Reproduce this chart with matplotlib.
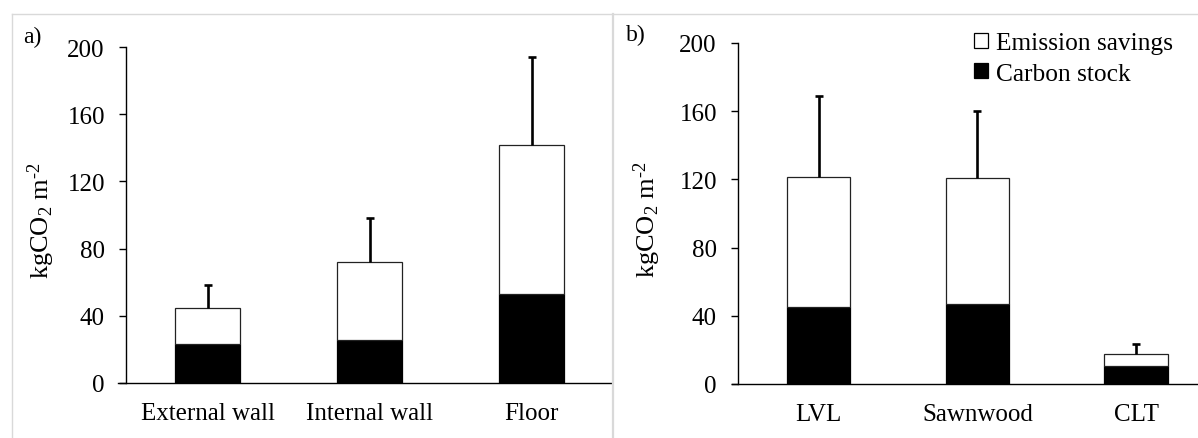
import matplotlib
matplotlib.use("Agg")
import matplotlib.pyplot as plt
from matplotlib.patches import Patch
from matplotlib.lines import Line2D

plt.rcParams['font.family'] = ['Liberation Serif', 'DejaVu Serif']
plt.rcParams['mathtext.fontset'] = 'custom'
plt.rcParams['mathtext.rm'] = 'Liberation Serif'
plt.rcParams['mathtext.it'] = 'Liberation Serif:italic'

# Panel a data
cats_a = ["External wall", "Internal wall", "Floor"]
carbon_a = [23.3, 25.4, 53.0]
savings_a = [21.5, 46.8, 88.9]
err_a = [13.5, 26.0, 52.5]

# Panel b data
cats_b = ["LVL", "Sawnwood", "CLT"]
carbon_b = [45.2, 46.7, 10.7]
savings_b = [76.0, 73.9, 6.9]
err_b = [47.7, 39.5, 5.7]

yticks = [0, 40, 80, 120, 160, 200]

W, H = 1198, 439
fig = plt.figure(figsize=(W / 100, H / 100), dpi=100)
fig.patch.set_facecolor('white')

def px(x0, y0, x1, y1):
    return [x0 / W, 1 - y1 / H, (x1 - x0) / W, (y1 - y0) / H]

ax_a = fig.add_axes(px(125.7, 48.3, 612, 383.7))
ax_b = fig.add_axes(px(737.7, 44, 1198, 385))

def draw(ax, cats, carbon, savings, err, xlim):
    x = list(range(len(cats)))
    totals = [c + s for c, s in zip(carbon, savings)]
    ax.bar(x, carbon, width=0.4, color='black', edgecolor='black', linewidth=0.9, zorder=2)
    ax.bar(x, savings, bottom=carbon, width=0.4, color='white', edgecolor='#222222',
           linewidth=0.9, zorder=2)
    eb = ax.errorbar(x, totals, yerr=[[0] * len(err), err], fmt='none', ecolor='black',
                     elinewidth=1.9, capsize=2.6, capthick=1.9, zorder=3)
    eb[1][0].set_visible(False)  # hide lower caps
    ax.set_ylim(0, 200)
    ax.set_xlim(*xlim)
    ax.set_yticks(yticks)
    ax.set_xticks(x)
    ax.set_xticklabels(cats, fontsize=18)
    ax.tick_params(axis='y', direction='out', length=5, width=1.0, labelsize=18, pad=10)
    ax.tick_params(axis='x', length=0, pad=14)
    for s in ['top', 'right', 'bottom']:
        ax.spines[s].set_visible(False)
    ax.spines['left'].set_linewidth(1.0)
    ax.set_ylabel('kgCO$_2$ m$^{\u20102}$', fontsize=19)

draw(ax_a, cats_a, carbon_a, savings_a, err_a, (-0.505, 2.495))
draw(ax_b, cats_b, carbon_b, savings_b, err_b, (-0.51, 2.39))
ax_a.yaxis.set_label_coords((57 - 125.7) / (612 - 125.7), 0.485)
ax_b.yaxis.set_label_coords((663 - 737.7) / (1198 - 737.7), 0.485)

# x axis line extending slightly left of the y-axis
ax_a.axhline(0, xmin=-0.015, xmax=1, color='black', lw=1.0, clip_on=False, zorder=4)
ax_b.axhline(0, xmin=-0.013, xmax=1, color='black', lw=1.0, clip_on=False, zorder=4)

# panel labels
fig.text(23 / W, 1 - 27 / H, 'a)', fontsize=17, va='top', ha='left')
fig.text(626 / W, 1 - 25 / H, 'b)', fontsize=17, va='top', ha='left')

# legend
handles = [Patch(facecolor='white', edgecolor='black', linewidth=0.9, label='Emission savings'),
           Patch(facecolor='black', edgecolor='black', linewidth=0.9, label='Carbon stock')]
fig.legend(handles=handles, loc='center left', bbox_to_anchor=(974 / W, 1 - 59.5 / H),
           frameon=False, fontsize=18.3, handlelength=0.55, handleheight=0.55,
           handletextpad=0.3, labelspacing=0.34, borderpad=0, borderaxespad=0)

# panel frames (light gray)
gray = '#d9d9d9'
fig.add_artist(Line2D([12 / W, 1], [1 - 14.7 / H] * 2, color=gray, lw=1.0, transform=fig.transFigure))
fig.add_artist(Line2D([12 / W] * 2, [0, 1 - 14.7 / H], color=gray, lw=1.0, transform=fig.transFigure))
fig.add_artist(Line2D([613.3 / W] * 2, [0, 1 - 14.7 / H], color=gray, lw=1.6, transform=fig.transFigure))

fig.savefig('out.png', dpi=100, facecolor='white')
